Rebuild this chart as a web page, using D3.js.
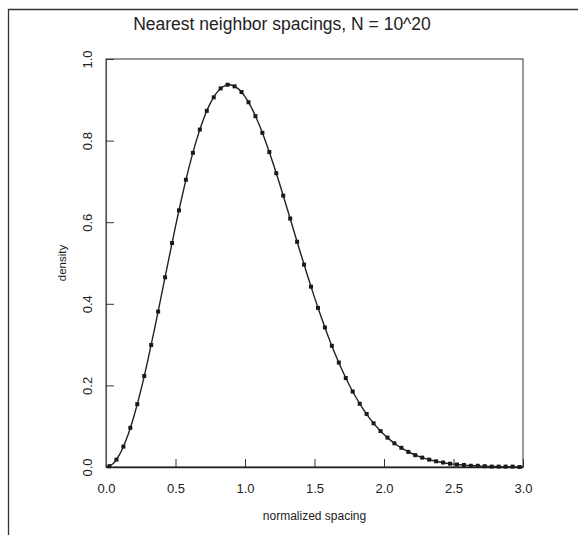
<!DOCTYPE html>
<html><head><meta charset="utf-8">
<script src="https://cdn.jsdelivr.net/npm/d3@7"></script>
<style>body{margin:0;background:#fff}svg{display:block}text{font-family:"Liberation Sans",Arial,sans-serif;fill:#222}</style>
</head><body><svg id="c" width="578" height="535"></svg>
<script>
const title = "Nearest neighbor spacings, N = 10^20";
const xLabel = "normalized spacing";
const yLabel = "density";
const xTicks = [0, 0.5, 1.0, 1.5, 2.0, 2.5, 3.0];
const yTicks = [0, 0.2, 0.4, 0.6, 0.8, 1.0];
// theoretical (GUE) curve sampled at 0.00, 0.05, ..., 3.00
const curveX = [0,0.05,0.1,0.15,0.2,0.25,0.3,0.35,0.4,0.45,0.5,0.55,0.6,0.65,0.7,0.75,0.8,0.85,0.9,0.95,1.0,1.05,1.1,1.15,1.2,1.25,1.3,1.35,1.4,1.45,1.5,1.55,1.6,1.65,1.7,1.75,1.8,1.85,1.9,1.95,2.0,2.05,2.1,2.15,2.2,2.25,2.3,2.35,2.4,2.45,2.5,2.55,2.6,2.65,2.7,2.75,2.8,2.85,2.9,2.95,3.0];
const curveY = [0,0.0081,0.0320,0.0709,0.1233,0.1871,0.2602,0.3398,0.4232,0.5073,0.5896,0.6673,0.7381,0.8000,0.8514,0.8911,0.9187,0.9337,0.9364,0.9274,0.9076,0.8782,0.8405,0.7961,0.7464,0.6929,0.6371,0.5804,0.5240,0.4688,0.4158,0.3656,0.3188,0.2757,0.2364,0.2011,0.1697,0.1421,0.1181,0.0973,0.0796,0.0647,0.0521,0.0417,0.0331,0.0261,0.0204,0.0158,0.0122,0.0093,0.0071,0.0054,0.0040,0.0030,0.0022,0.0016,0.0012,0.0009,0.0006,0.0004,0.0003];
// empirical histogram points at bin centres
const pointX = [0.025,0.075,0.125,0.175,0.225,0.275,0.325,0.375,0.425,0.475,0.525,0.575,0.625,0.675,0.725,0.775,0.825,0.875,0.925,0.975,1.025,1.075,1.125,1.175,1.225,1.275,1.325,1.375,1.425,1.475,1.525,1.575,1.625,1.675,1.725,1.775,1.825,1.875,1.925,1.975,2.025,2.075,2.125,2.175,2.225,2.275,2.325,2.375,2.425,2.475,2.525,2.575,2.625,2.675,2.725,2.775,2.825,2.875,2.925,2.975];
const pointY = [0.002,0.018,0.050,0.096,0.154,0.223,0.299,0.381,0.465,0.549,0.629,0.704,0.770,0.827,0.873,0.906,0.928,0.937,0.933,0.919,0.894,0.860,0.819,0.772,0.720,0.665,0.609,0.552,0.496,0.442,0.390,0.342,0.297,0.256,0.218,0.185,0.155,0.130,0.107,0.088,0.072,0.058,0.047,0.037,0.029,0.023,0.018,0.014,0.011,0.008,0.006,0.005,0.003,0.003,0.002,0.001,0.001,0.001,0.001,0.000];

const svg = d3.select("#c");
const L = 106, R = 523, T = 59, B = 467;
const x = d3.scaleLinear().domain([0,3]).range([L,R]);
const y = d3.scaleLinear().domain([0,1]).range([B,T]);

// outer page border (left and top)
svg.append("path").attr("d",`M8.5,535V9.5H578`).attr("fill","none").attr("stroke","#333").attr("stroke-width",1.3);

// plot box
svg.append("rect").attr("x",L).attr("y",T).attr("width",R-L).attr("height",B-T)
  .attr("fill","none").attr("stroke","#444").attr("stroke-width",1.1);

// axes with inward ticks
const xAxis = d3.axisBottom(x).tickValues(xTicks).tickFormat(d3.format(".1f")).tickSizeInner(-8).tickSizeOuter(0).tickPadding(17);
const gx = svg.append("g").attr("transform",`translate(0,${B})`).call(xAxis);
gx.select(".domain").attr("stroke","#222").attr("stroke-width",1.6);
gx.selectAll(".tick line").attr("stroke","#333");
gx.selectAll(".tick text").attr("font-size",13).attr("fill","#222").attr("font-family","Liberation Sans, Arial, sans-serif");

const yAxis = d3.axisLeft(y).tickValues(yTicks).tickFormat(d3.format(".1f")).tickSizeInner(-8).tickSizeOuter(0).tickPadding(0);
const gy = svg.append("g").attr("transform",`translate(${L},0)`).call(yAxis);
gy.select(".domain").attr("stroke","#555").attr("stroke-width",1.1);
gy.selectAll(".tick line").attr("stroke","#333");
gy.selectAll(".tick text").remove();
gy.selectAll(".tick").append("text")
  .attr("transform","translate(-19,0) rotate(-90)")
  .attr("text-anchor","middle").attr("dy","0.35em")
  .attr("font-size",13).attr("fill","#222")
  .text(d=>d3.format(".1f")(d));

// curve
const line = d3.line().x((d,i)=>x(curveX[i])).y(d=>y(d)).curve(d3.curveCatmullRom);
svg.append("path").datum(curveY).attr("d",line).attr("fill","none").attr("stroke","#222").attr("stroke-width",1.4);

// points
svg.append("g").selectAll("rect").data(pointY).join("rect")
  .attr("x",(d,i)=>x(pointX[i])-2).attr("y",d=>y(d)-2)
  .attr("width",4).attr("height",4).attr("fill","#1a1a1a");

// labels
svg.append("text").attr("x",282).attr("y",30).attr("text-anchor","middle").attr("font-size",17.5).text(title);
svg.append("text").attr("x",(L+R)/2).attr("y",520).attr("text-anchor","middle").attr("font-size",12).text(xLabel);
svg.append("text").attr("transform",`translate(66,${(T+B)/2}) rotate(-90)`).attr("text-anchor","middle").attr("font-size",11.5).text(yLabel);
</script></body></html>
